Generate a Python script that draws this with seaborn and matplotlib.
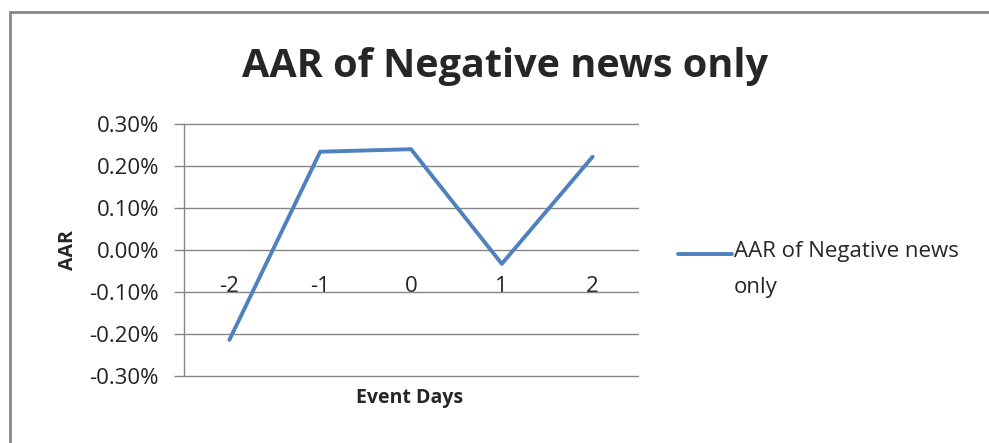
import matplotlib
matplotlib.use("Agg")

import pandas as pd
import seaborn as sns
import matplotlib.pyplot as plt
from matplotlib.patches import Rectangle
from matplotlib.ticker import FuncFormatter


event_days = [-2, -1, 0, 1, 2]
aar_values = [-0.214, 0.234, 0.240, -0.033, 0.222]  # in percent
y_ticks = [-0.3, -0.2, -0.1, 0.0, 0.1, 0.2, 0.3]

SERIES_NAME = "AAR of Negative news only"
LINE_COLOR = "#4F81BD"
GRID_COLOR = "#868686"


def main():
    df = pd.DataFrame({"day": event_days, "aar": aar_values})

    sns.set_theme(style="white")
    plt.rcParams["font.family"] = ["Open Sans", "DejaVu Sans"]

    fig = plt.figure(figsize=(9.89, 4.43), dpi=100)
    ax = fig.add_axes([184 / 989, 67 / 443, 454 / 989, 252 / 443])

    # outer chart frame (Excel style)
    fig.patches.append(Rectangle(
        (10 / 989, -0.1), 1.2, (443 - 12) / 443 + 0.1,
        transform=fig.transFigure, fill=False, edgecolor="#888888", linewidth=2,
    ))

    sns.lineplot(data=df, x="day", y="aar", color=LINE_COLOR, linewidth=2.8,
                 label=SERIES_NAME, ax=ax)

    ax.set_xlim(-2.5, 2.5)
    ax.set_ylim(-0.3, 0.3)
    ax.set_yticks(y_ticks)
    ax.yaxis.set_major_formatter(FuncFormatter(lambda v, _: f"{v:.2f}%"))
    ax.yaxis.grid(True, color=GRID_COLOR, linewidth=1)
    for gl in ax.get_ygridlines():
        gl.set_clip_on(False)
    ax.set_axisbelow(True)

    # x axis labels sit at the zero line, as in Excel
    ax.spines["bottom"].set_position(("data", 0))
    ax.spines["bottom"].set_visible(False)
    for side in ["top", "right"]:
        ax.spines[side].set_visible(False)
    ax.spines["left"].set_color(GRID_COLOR)
    ax.spines["left"].set_linewidth(1)

    ax.set_xticks(event_days)
    ax.set_xticklabels([str(d) for d in event_days])
    ax.tick_params(axis="x", length=0, pad=19, labelsize=16, colors="#222222")
    ax.tick_params(axis="y", left=True, length=7, width=1, color=GRID_COLOR,
                   pad=11, labelsize=16, labelcolor="#222222")

    ax.set_xlabel("")
    ax.set_ylabel("AAR", fontsize=14, fontweight="bold", labelpad=8)
    fig.text(410 / 989, 1 - 398 / 443, "Event Days", ha="center", va="center",
             fontsize=14, fontweight="bold")

    fig.text(505 / 989, 1 - 66 / 443, SERIES_NAME, ha="center", va="center",
             fontsize=28.5, fontweight="bold")

    leg = ax.legend(loc="center left", bbox_to_anchor=(1.045, 0.41), frameon=False,
                    fontsize=16, handlelength=2.4, handletextpad=0.1,
                    handleheight=5.6)
    txt = leg.get_texts()[0]
    txt.set_text("AAR of Negative news\nonly")
    txt.set_linespacing(1.95)

    fig.savefig("out.png", dpi=100)
    plt.close(fig)


if __name__ == "__main__":
    main()
